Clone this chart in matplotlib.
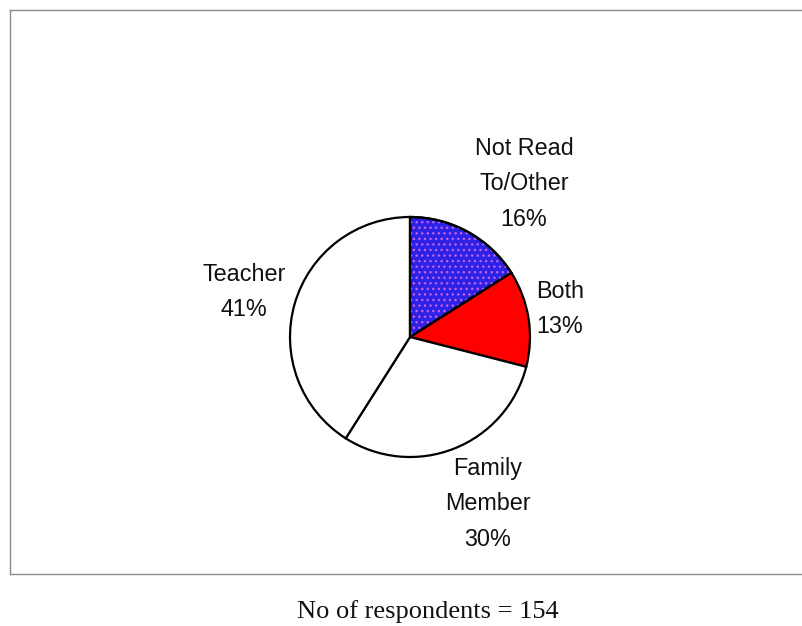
import matplotlib
matplotlib.use("Agg")
import matplotlib.pyplot as plt
import matplotlib.patches as mpatches

# Who reads to the respondents (percent of 154 respondents)
categories = ["Not Read\nTo/Other", "Both", "Family\nMember", "Teacher"]
shares = [16, 13, 30, 41]
respondents = 154

face_colors = ["#2c22e6", "#ff0000", "#ffffff", "#ffffff"]
label_pos = [(524, 184), (560, 309), (488, 504), (244, 292)]  # pixel positions, top-left origin

W, H = 802, 626
fig = plt.figure(figsize=(W / 100, H / 100), dpi=100)
ax = fig.add_axes([0, 0, 1, 1])

cx, cy, r = 410, H - 337, 120

wedges, _ = ax.pie(shares, colors=face_colors, startangle=90, counterclock=False,
                   center=(cx, cy), radius=r, frame=True,
                   wedgeprops=dict(edgecolor="black", linewidth=1.6))
ax.set_xlim(0, W)
ax.set_ylim(0, H)
ax.set_aspect("equal")
ax.axis("off")

# speckled texture over the first slice
w0 = wedges[0]
tex = mpatches.Wedge((cx, cy), r, w0.theta1, w0.theta2, facecolor="none",
                     edgecolor="#c060e8", hatch="...", linewidth=0, zorder=w0.get_zorder() + 0.1)
ax.add_patch(tex)
outline = mpatches.Wedge((cx, cy), r, w0.theta1, w0.theta2, facecolor="none",
                         edgecolor="black", linewidth=1.6, zorder=w0.get_zorder() + 0.2)
ax.add_patch(outline)

for name, val, (px, py) in zip(categories, shares, label_pos):
    ax.text(px, H - py, f"{name}\n{val}%", ha="center", va="center",
            fontsize=16.8, family="Liberation Sans", linespacing=1.68, color="#111111")

# frame around the chart area
frame_kw = dict(color="#8a8a8a", linewidth=1.0)
ax.plot([10, W], [H - 10, H - 10], **frame_kw)
ax.plot([10, 10], [H - 10, H - 574], **frame_kw)
ax.plot([10, W], [H - 574, H - 574], **frame_kw)

fig.text(428 / W, 1 - 612 / H, f"No of respondents = {respondents}", ha="center", va="center",
         fontsize=19, family="Liberation Serif", color="#111111")

fig.savefig("out.png", dpi=100, facecolor="white")
